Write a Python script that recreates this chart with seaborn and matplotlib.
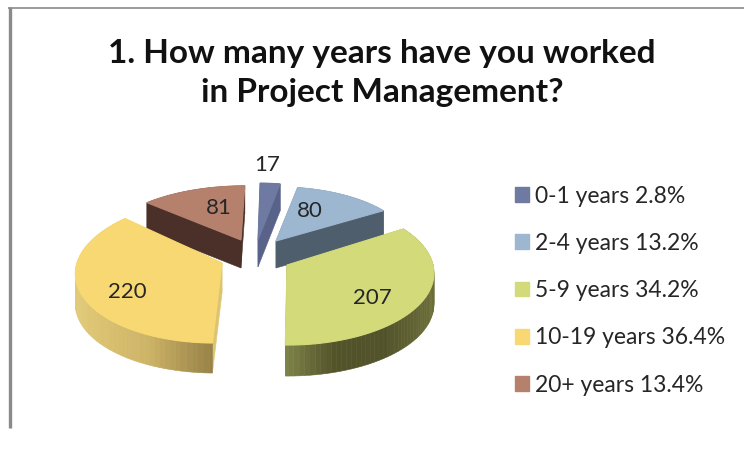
import matplotlib
matplotlib.use("Agg")
import matplotlib.pyplot as plt
import matplotlib.patches as mpatches
from matplotlib.colors import LinearSegmentedColormap
from matplotlib.transforms import Affine2D
import numpy as np
import seaborn as sns

# data
categories = ["0-1 years", "2-4 years", "5-9 years", "10-19 years", "20+ years"]
counts = [17, 80, 207, 220, 81]
percents = ["2.8%", "13.2%", "34.2%", "36.4%", "13.4%"]
colors = ["#6E7AA2", "#9DB7D0", "#D2DA7A", "#F8D873", "#B5816D"]
title = "1. How many years have you worked\nin Project Management?"

# layout in pixels: apex x, apex y, radius x, radius y, depth
slices = [
    (258, 240, 126, 63, 27),
    (276, 241, 134, 60, 27),
    (287, 265, 146, 71.4, 31),
    (222, 263, 145, 71.4, 30),
    (241, 240, 139, 60, 28),
]
rim_colors = [
    ["#59638A", "#59638A"],
    ["#4F5E6C", "#4F5E6C"],
    ["#7E8349", "#525329", "#52532B", "#6C6E38"],
    ["#E2CA78", "#CDB366", "#8F7A42"],
    ["#4A3029", "#4A3029"],
]
cut_colors = ["#59638A", "#4F5E6C", "#7E8349", "#DCC470", "#4A3029"]
count_pos = [(267, 165), (310, 211), (372, 298), (127, 292), (219, 208)]

# camera of the tilted pie
vanish_x = 280
persp = 0.108


def project(pts, slc):
    cx, cy, rx, ry, _ = slc
    s = 1 / (1 + persp * pts[:, 1])
    return np.column_stack([vanish_x + (cx - vanish_x + rx * pts[:, 0]) * s,
                            cy - ry * pts[:, 1] * s])


sns.set_style("white")
plt.rcParams["font.family"] = ["Lato", "DejaVu Sans"]

fig = plt.figure(figsize=(7.44, 4.57), dpi=100)
ax = fig.add_axes([0, 0, 1, 1])
wedges, _ = ax.pie(counts, colors=colors, startangle=90, counterclock=False, radius=1)
ax.set_aspect("auto")
ax.set_xlim(0, 744)
ax.set_ylim(457, 0)
ax.axis("off")

# chart frame
ax.plot([9.5, 9.5], [7, 428], color="#8A8A8A", lw=2.4, solid_capstyle="butt")
ax.plot([8, 744], [7.5, 7.5], color="#8A8A8A", lw=1.2, solid_capstyle="butt")

for i, wedge in enumerate(wedges):
    slc = slices[i]
    cx, cy, depth = slc[0], slc[1], slc[4]
    # take the pie's wedge outline and put it on the tilted plane
    unit = wedge.get_patch_transform().transform_path(wedge.get_path())
    big = Affine2D().scale(400).transform_path(unit).to_polygons()[0] / 400
    outline = project(big, slc)
    wedge.set_visible(False)

    # side walls, back to front
    cmap = LinearSegmentedColormap.from_list("rim", rim_colors[i])
    x0, x1 = outline[:, 0].min(), outline[:, 0].max()
    edges = list(zip(outline[:-1], outline[1:]))
    edges.sort(key=lambda e: e[0][1] + e[1][1])
    for a, b in edges:
        is_cut = np.hypot(*(a - (cx, cy))) < 1 or np.hypot(*(b - (cx, cy))) < 1
        c = cut_colors[i] if is_cut else cmap(((a[0] + b[0]) / 2 - x0) / (x1 - x0))
        ax.fill([a[0], b[0], b[0], a[0]], [a[1], b[1], b[1] + depth, a[1] + depth],
                color=c, lw=0.4, zorder=2 + i * 0.1)

    ax.fill(outline[:, 0], outline[:, 1], facecolor=colors[i], edgecolor=colors[i],
            lw=0.8, zorder=3 + i * 0.1)
    ax.text(*count_pos[i], str(counts[i]), fontsize=16, ha="center", va="center", zorder=6)

ax.text(382, 73, title, fontsize=24, fontweight="bold", ha="center", va="center",
        linespacing=1.38, color="#111111")

handles = [mpatches.Patch(color=c) for c in colors]
labels = [f"{c} {p}" for c, p in zip(categories, percents)]
ax.legend(handles, labels, loc="upper left", bbox_to_anchor=(494, 165),
          bbox_transform=ax.transData, frameon=False, fontsize=16.5, labelspacing=1.145,
          handlelength=0.61, handleheight=0.61, handletextpad=0.3, borderpad=0.4)

fig.savefig("out.png", dpi=100)
